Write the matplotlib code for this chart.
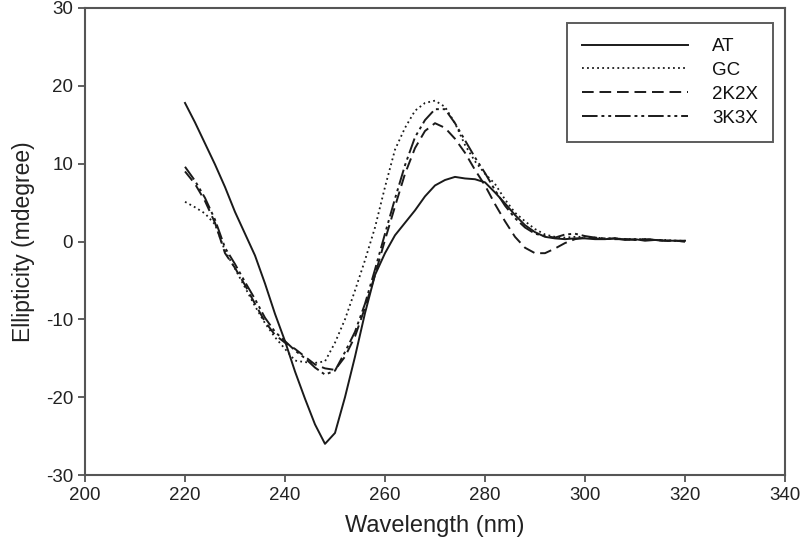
import matplotlib
matplotlib.use("Agg")
import matplotlib.pyplot as plt
import numpy as np

plt.rcParams['font.family'] = ['Liberation Sans', 'DejaVu Sans']
plt.rcParams['axes.unicode_minus'] = False

wavelength = list(range(220, 321, 2))

at = [17.8, 15.3, 12.6, 9.9, 7.0, 3.8, 1.0, -1.8, -5.4, -9.3,
      -12.8, -16.7, -20.2, -23.5, -26.0, -24.6, -20.0, -14.8, -9.2, -4.3,
      -1.5, 0.8, 2.4, 4.0, 5.8, 7.2, 7.9, 8.3, 8.1, 8.0,
      7.6, 6.3, 4.9, 3.4, 2.1, 1.2, 0.6, 0.4, 0.3, 0.4,
      0.4, 0.3, 0.3, 0.4, 0.2, 0.3, 0.1, 0.2, 0.1, 0.1, 0.1]

gc = [5.1, 4.4, 3.6, 2.2, -1.2, -3.5, -5.9, -8.3, -10.5, -12.3,
      -13.8, -15.3, -15.5, -15.6, -15.4, -13.0, -10.0, -6.3, -2.4, 1.8,
      7.0, 11.8, 14.6, 16.8, 17.8, 18.1, 17.3, 15.2, 12.4, 10.3,
      8.7, 7.4, 5.4, 3.7, 2.6, 1.6, 0.9, 0.6, 0.5, 0.6,
      0.6, 0.5, 0.4, 0.4, 0.3, 0.3, 0.3, 0.2, 0.2, 0.1, 0.1]

k2x = [9.0, 7.4, 5.2, 2.4, -1.5, -3.4, -5.6, -8.0, -10.3, -12.0,
       -13.0, -13.8, -14.8, -15.8, -16.3, -16.5, -14.8, -12.2, -8.5, -4.3,
       0.2, 4.5, 8.7, 12.0, 14.2, 15.2, 14.6, 13.2, 11.4, 9.2,
       7.2, 4.8, 2.6, 0.6, -0.8, -1.5, -1.5, -0.9, -0.2, 0.3,
       0.5, 0.4, 0.3, 0.4, 0.3, 0.2, 0.3, 0.2, 0.1, 0.1, 0.0]

k3x = [9.6, 7.8, 5.6, 2.8, -0.8, -2.9, -5.2, -7.4, -9.8, -11.6,
       -12.8, -14.0, -15.0, -16.2, -17.1, -16.6, -14.2, -11.6, -8.0, -3.6,
       1.0, 5.5, 9.8, 13.4, 15.6, 17.0, 17.0, 15.2, 13.0, 10.8,
       8.8, 6.6, 4.6, 3.0, 1.8, 1.0, 0.7, 0.5, 0.9, 1.0,
       0.7, 0.5, 0.4, 0.3, 0.3, 0.2, 0.3, 0.2, 0.1, 0.1, 0.0]

labels = ["AT", "GC", "2K2X", "3K3X"]
xticks = [200, 220, 240, 260, 280, 300, 320, 340]
yticks = [-30, -20, -10, 0, 10, 20, 30]

fig = plt.figure(figsize=(8, 5.55), dpi=100)
ax = fig.add_axes([85/800, 80/555, 700/800, 467/555])

lc = '#1a1a1a'
ax.plot(wavelength, at, color=lc, lw=1.4, ls='-', label=labels[0])
ax.plot(wavelength, gc, color=lc, lw=1.3, ls=(0, (1, 1.8)), label=labels[1])
ax.plot(wavelength, k2x, color=lc, lw=1.4, ls=(0, (6, 3)), label=labels[2])
ax.plot(wavelength, k3x, color=lc, lw=1.4, ls=(0, (8, 2, 1.5, 2, 1.5, 2)), label=labels[3])

ax.set_xlim(200, 340)
ax.set_ylim(-30, 30)
ax.set_xticks(xticks)
ax.set_yticks(yticks)
ax.tick_params(direction='out', length=5, width=1.2, color='#444444',
               labelsize=13.5, labelcolor='#222222')
for s in ax.spines.values():
    s.set_color('#555555')
    s.set_linewidth(1.5)

ax.set_xlabel("Wavelength (nm)", fontsize=17, color='#222222', labelpad=8)
ax.set_ylabel("Ellipticity (mdegree)", fontsize=16.5, color='#222222', labelpad=8)

leg = ax.legend(loc='upper right', bbox_to_anchor=(0.983, 0.968), borderaxespad=0,
                fontsize=13.5, handlelength=5.65, handletextpad=1.3,
                labelspacing=0.36, frameon=True, fancybox=False,
                borderpad=0.8)
leg.get_frame().set_edgecolor('#333333')
leg.get_frame().set_linewidth(1.4)
for t in leg.get_texts():
    t.set_color('#111111')

fig.savefig("out.png", dpi=100)
